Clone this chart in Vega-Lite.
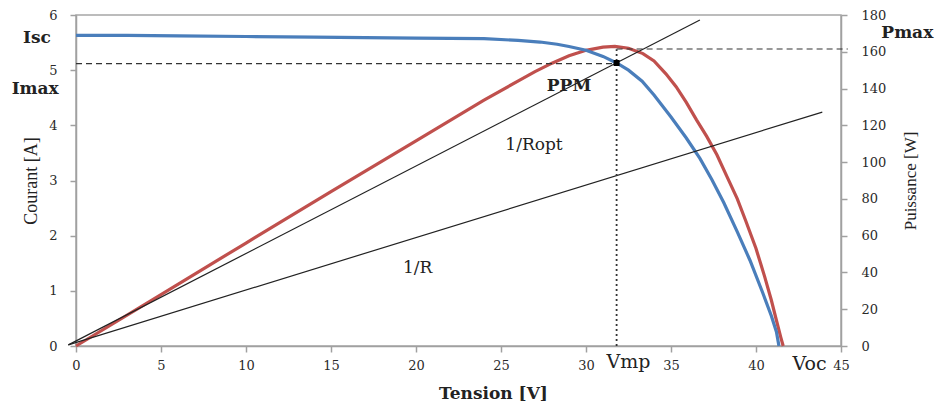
{
  "$schema": "https://vega.github.io/schema/vega-lite/v6.json",
  "width": 765,
  "height": 331,
  "autosize": {"type": "none"},
  "padding": {"left": 76, "top": 15, "right": 97, "bottom": 60},
  "background": "white",
  "config": {
    "view": {"stroke": "#a6a6a6", "strokeWidth": 1.5},
    "font": "DejaVu Serif",
    "axis": {
      "grid": false,
      "domainColor": "#a0a0a0",
      "domainWidth": 1.5,
      "tickColor": "#a0a0a0",
      "tickWidth": 1.5,
      "tickSize": 6,
      "labelFont": "DejaVu Serif",
      "labelFontSize": 13,
      "labelColor": "#2a2a2a",
      "labelOverlap": false,
      "labelFlush": false,
      "titleColor": "#222222"
    },
    "axisY": {"titleFont": "Liberation Serif", "titleFontSize": 18, "titleFontWeight": "normal"},
    "axisX": {"titleFont": "DejaVu Serif", "titleFontSize": 17, "titleFontWeight": "bold"}
  },
  "datasets": {
    "iv": [
      {"V": 0, "I": 5.63}, {"V": 3, "I": 5.63}, {"V": 6, "I": 5.62}, {"V": 10, "I": 5.61},
      {"V": 14, "I": 5.6}, {"V": 17, "I": 5.59}, {"V": 20, "I": 5.58}, {"V": 24, "I": 5.57},
      {"V": 26, "I": 5.54}, {"V": 27.3, "I": 5.51}, {"V": 28.3, "I": 5.47}, {"V": 29, "I": 5.43},
      {"V": 30, "I": 5.36}, {"V": 31, "I": 5.25}, {"V": 31.8, "I": 5.13}, {"V": 32.5, "I": 5.0},
      {"V": 33.3, "I": 4.8}, {"V": 34, "I": 4.55}, {"V": 35, "I": 4.15}, {"V": 35.9, "I": 3.77},
      {"V": 36.7, "I": 3.4}, {"V": 37.4, "I": 3.02}, {"V": 38.1, "I": 2.6}, {"V": 38.9, "I": 2.07},
      {"V": 39.65, "I": 1.55}, {"V": 40.4, "I": 0.96}, {"V": 40.9, "I": 0.55}, {"V": 41.2, "I": 0.26},
      {"V": 41.35, "I": 0}
    ],
    "pv": [
      {"V": 0, "P": 0}, {"V": 5, "P": 28}, {"V": 10, "P": 56}, {"V": 15, "P": 84},
      {"V": 20, "P": 111.6}, {"V": 24, "P": 133.7}, {"V": 26.1, "P": 144.6}, {"V": 27, "P": 149.2},
      {"V": 28, "P": 153.8}, {"V": 29, "P": 157.8}, {"V": 30, "P": 160.8}, {"V": 31, "P": 162.5},
      {"V": 31.7, "P": 162.9}, {"V": 32.5, "P": 161.9}, {"V": 33.35, "P": 159}, {"V": 34, "P": 155},
      {"V": 34.7, "P": 148}, {"V": 35.3, "P": 141}, {"V": 35.9, "P": 132.5}, {"V": 36.5, "P": 123},
      {"V": 37.1, "P": 114}, {"V": 37.7, "P": 104}, {"V": 38.3, "P": 92}, {"V": 38.9, "P": 80},
      {"V": 39.4, "P": 68}, {"V": 40.0, "P": 53}, {"V": 40.5, "P": 38}, {"V": 40.9, "P": 25},
      {"V": 41.2, "P": 14}, {"V": 41.45, "P": 5}, {"V": 41.6, "P": 0}
    ],
    "ropt": [{"V": -0.45, "I": 0.02}, {"V": 36.7, "I": 5.91}],
    "r": [{"V": -0.45, "I": 0.02}, {"V": 43.9, "I": 4.24}],
    "imax": [{"V": 0, "I": 5.12}, {"V": 31.8, "I": 5.12}],
    "vmp": [{"V": 31.8, "I": 0}, {"V": 31.8, "I": 5.38}],
    "pmax": [{"V": 31.8, "P": 161.5}, {"V": 45.4, "P": 161.5}],
    "ppm": [{"V": 31.8, "I": 5.13}],
    "boldLabels": [
      {"label": "Isc", "V": -2.3, "I": 5.59},
      {"label": "Imax", "V": -2.4, "I": 4.65},
      {"label": "PPM", "V": 29.0, "I": 4.72},
      {"label": "Pmax", "V": 48.9, "I": 5.68}
    ],
    "midLabels": [
      {"label": "1/Ropt", "V": 26.94, "I": 3.65},
      {"label": "1/R", "V": 20.1, "I": 1.42}
    ],
    "bigLabels": [
      {"label": "Vmp", "V": 32.5, "I": -0.29},
      {"label": "Voc", "V": 43.15, "I": -0.33}
    ]
  },
  "encoding": {
    "x": {
      "field": "V",
      "type": "quantitative",
      "scale": {"domain": [0, 45], "nice": false},
      "axis": {
        "values": [0, 5, 10, 15, 20, 25, 30, 35, 40, 45],
        "labelPadding": 7,
        "title": "Tension [V]",
        "titleFont": "DejaVu Serif",
        "titleFontWeight": "bold",
        "titleFontSize": 17,
        "titleX": 417,
        "titleY": 47,
        "titleBaseline": "middle"
      }
    }
  },
  "layer": [
    {
      "encoding": {
        "y": {
          "field": "P",
          "type": "quantitative",
          "scale": {"domain": [0, 180], "nice": false},
          "axis": {
            "orient": "right",
            "values": [0, 20, 40, 60, 80, 100, 120, 140, 160, 180],
            "labelPadding": 14,
            "title": "Puissance [W]",
            "titleFont": "Liberation Serif",
            "titleFontSize": 17,
            "titleFontWeight": "normal",
            "titleAngle": 270,
            "titlePadding": 34
          }
        }
      },
      "layer": [
        {
          "data": {"name": "pv"},
          "mark": {"type": "line", "color": "#c0504d", "strokeWidth": 3.2, "clip": false}
        },
        {
          "data": {"name": "pmax"},
          "mark": {"type": "line", "color": "#333333", "strokeWidth": 1.2, "strokeDash": [6, 4], "clip": false}
        }
      ]
    },
    {
      "encoding": {
        "y": {
          "field": "I",
          "type": "quantitative",
          "scale": {"domain": [0, 6], "nice": false},
          "axis": {
            "orient": "left",
            "values": [0, 1, 2, 3, 4, 5, 6],
            "labelPadding": 13,
            "title": "Courant [A]",
            "titleFont": "Liberation Serif",
            "titleFontSize": 18,
            "titleFontWeight": "normal",
            "titlePadding": 8
          }
        }
      },
      "layer": [
        {
          "data": {"name": "iv"},
          "mark": {"type": "line", "color": "#4a7ebb", "strokeWidth": 3.2, "clip": false}
        },
        {
          "data": {"name": "ropt"},
          "mark": {"type": "line", "color": "#222222", "strokeWidth": 1.2, "clip": false}
        },
        {
          "data": {"name": "r"},
          "mark": {"type": "line", "color": "#222222", "strokeWidth": 1.2, "clip": false}
        },
        {
          "data": {"name": "imax"},
          "mark": {"type": "line", "color": "#333333", "strokeWidth": 1.2, "strokeDash": [6, 4], "clip": false}
        },
        {
          "data": {"name": "vmp"},
          "mark": {"type": "line", "color": "#333333", "strokeWidth": 1.8, "strokeDash": [2, 3], "clip": false}
        },
        {
          "data": {"name": "ppm"},
          "mark": {"type": "point", "shape": "square", "filled": true, "color": "#000000", "size": 36, "opacity": 1}
        },
        {
          "data": {"name": "boldLabels"},
          "mark": {"type": "text", "font": "DejaVu Serif", "fontWeight": "bold", "fontSize": 17, "color": "#222222", "baseline": "middle", "align": "center"},
          "encoding": {"text": {"field": "label"}}
        },
        {
          "data": {"name": "midLabels"},
          "mark": {"type": "text", "font": "DejaVu Serif", "fontSize": 17, "color": "#222222", "baseline": "middle", "align": "center"},
          "encoding": {"text": {"field": "label"}}
        },
        {
          "data": {"name": "bigLabels"},
          "mark": {"type": "text", "font": "DejaVu Serif", "fontSize": 19, "color": "#222222", "baseline": "middle", "align": "center"},
          "encoding": {"text": {"field": "label"}}
        }
      ]
    }
  ],
  "resolve": {"scale": {"y": "independent"}}
}
